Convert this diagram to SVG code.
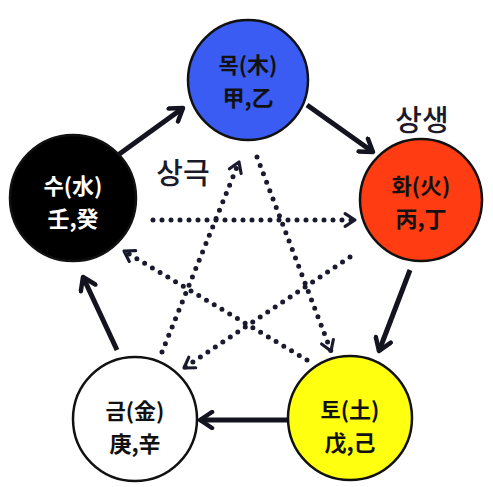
<svg xmlns="http://www.w3.org/2000/svg" width="493" height="487" viewBox="0 0 493 487">
<defs>
<style>
.node{stroke:#111;stroke-width:2.5}
.t{font-family:"Noto Sans CJK KR","Noto Sans CJK SC",sans-serif;font-weight:bold;font-size:22px;text-anchor:middle;fill:#111}
.w{fill:#fff}
.lbl{font-family:"Noto Sans CJK KR",sans-serif;font-weight:500;font-size:29px;text-anchor:middle;fill:#1a1a2a}
.solid{stroke:#141420;stroke-width:5;fill:none;marker-end:url(#ah)}
.dot{stroke:#1a1a2e;stroke-width:5;fill:none;stroke-dasharray:0 9;stroke-linecap:round;marker-end:url(#dh)}
</style>
<marker id="ah" viewBox="0 0 20 20" refX="16" refY="10" markerWidth="20" markerHeight="20" markerUnits="userSpaceOnUse" orient="auto">
<path d="M4,2 L16,10 L4,18" fill="none" stroke="#141420" stroke-width="4.5" stroke-linecap="round" stroke-linejoin="round"/>
</marker>
<marker id="dh" viewBox="0 0 20 20" refX="16" refY="10" markerWidth="18" markerHeight="18" markerUnits="userSpaceOnUse" orient="auto">
<path d="M5,3 L16,10 L5,17" fill="none" stroke="#1a1a2e" stroke-width="3.5" stroke-linecap="round" stroke-linejoin="round"/>
</marker>
</defs>
<rect width="493" height="487" fill="#fff"/>
<g id="connectors">
<line class="solid" x1="118" y1="155" x2="183" y2="108"/>
<line class="solid" x1="307" y1="105" x2="373" y2="152"/>
<line class="solid" x1="410" y1="270" x2="379" y2="351"/>
<line class="solid" x1="287" y1="420" x2="200" y2="420"/>
<line class="solid" x1="117" y1="350" x2="83" y2="277"/>
<line class="dot" x1="153" y1="220" x2="355" y2="220"/>
<line class="dot" x1="350" y1="257" x2="184" y2="368"/>
<line class="dot" x1="162" y1="352" x2="239" y2="162"/>
<line class="dot" x1="257" y1="157" x2="331" y2="351"/>
<line class="dot" x1="307" y1="360" x2="124" y2="251"/>
</g>
<g id="wood">
<circle class="node" cx="248" cy="80" r="60" fill="#3b5cf2"/>
<text class="t" x="248" y="73">목(木)</text>
<text class="t" x="248" y="106">甲,乙</text>
</g>
<g id="fire">
<circle class="node" cx="421" cy="200" r="61" fill="#ff3c12"/>
<text class="t" x="421" y="194">화(火)</text>
<text class="t" x="421" y="227">丙,丁</text>
</g>
<g id="earth">
<circle class="node" cx="350" cy="418" r="62" fill="#ffff10"/>
<text class="t" x="350" y="418">토(土)</text>
<text class="t" x="350" y="451">戊,己</text>
</g>
<g id="metal">
<circle class="node" cx="135" cy="419" r="62" fill="#fff"/>
<text class="t" x="135" y="419">금(金)</text>
<text class="t" x="135" y="452">庚,辛</text>
</g>
<g id="water">
<circle class="node" cx="73" cy="198" r="63" fill="#000"/>
<text class="t w" x="73" y="194">수(水)</text>
<text class="t w" x="73" y="227">壬,癸</text>
</g>
<g id="labels">
<text class="lbl" x="422" y="131">상생</text>
<text class="lbl" x="183" y="184">상극</text>
</g>
</svg>
